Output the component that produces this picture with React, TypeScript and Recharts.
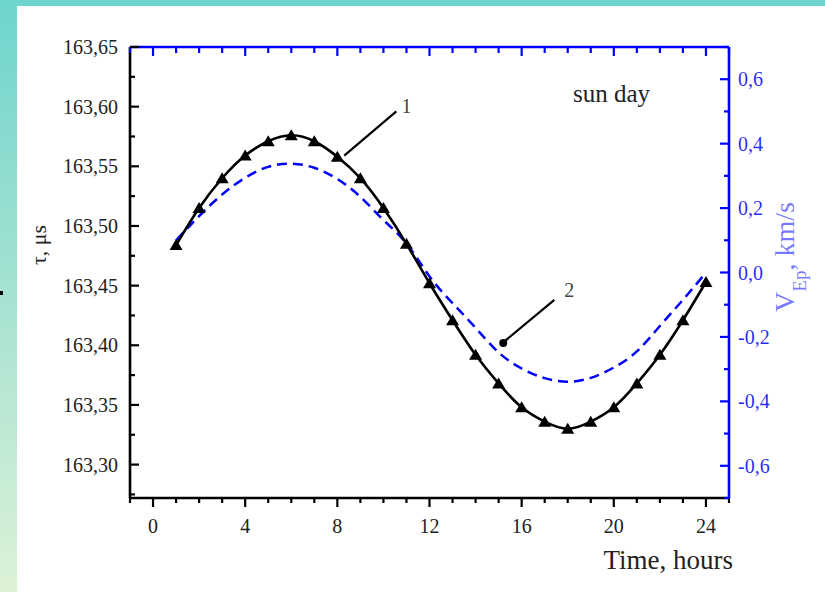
import { Label, Line, LineChart, ReferenceDot, ReferenceLine, XAxis, YAxis } from "recharts";

const hours = [1, 2, 3, 4, 5, 6, 7, 8, 9, 10, 11, 12, 13, 14, 15, 16, 17, 18, 19, 20, 21, 22, 23, 24];
// curve 1: tau, microseconds (left axis)
const tau = [
  163.484, 163.515, 163.54, 163.559, 163.571, 163.576, 163.571, 163.558, 163.54, 163.515, 163.485, 163.452,
  163.421, 163.392, 163.368, 163.348, 163.336, 163.33, 163.336, 163.348, 163.368, 163.392, 163.421, 163.453,
];
// curve 2: V_Ep, km/s (right axis)
const vep = [
  0.1, 0.175, 0.242, 0.294, 0.328, 0.338, 0.325, 0.29, 0.235, 0.163, 0.09, -0.012,
  -0.095, -0.172, -0.248, -0.298, -0.328, -0.339, -0.327, -0.295, -0.245, -0.166, -0.085, 0.0,
];

const timeTicks = [-1, 0, 1, 2, 3, 4, 5, 6, 7, 8, 9, 10, 11, 12, 13, 14, 15, 16, 17, 18, 19, 20, 21, 22, 23, 24, 25];
const tauTicks = [
  163.275, 163.3, 163.325, 163.35, 163.375, 163.4, 163.425, 163.45, 163.475, 163.5, 163.525, 163.55, 163.575, 163.6,
  163.625, 163.65,
];
const vepTicks = [-0.7, -0.6, -0.5, -0.4, -0.3, -0.2, -0.1, 0, 0.1, 0.2, 0.3, 0.4, 0.5, 0.6, 0.7];

const data = hours.map((h, i) => ({ h, tau: tau[i], vep: vep[i] }));

const serif = '"Liberation Serif", "Times New Roman", serif';
const BLUE = "#0000ff";

function BottomTick({ x, y, payload }: any) {
  const major = payload.value % 4 === 0;
  return (
    <g>
      <line x1={x} y1={y} x2={x} y2={y + (major ? 9 : 5)} stroke="#000" strokeWidth={2.2} />
      {major && (
        <text x={x} y={y + 35} textAnchor="middle" fontFamily={serif} fontSize={20} fill="#222">
          {payload.value}
        </text>
      )}
    </g>
  );
}

function TopTick({ x, y, payload }: any) {
  const major = payload.value % 4 === 0;
  return <line x1={x} y1={y} x2={x} y2={y + (major ? 9 : 6)} stroke={BLUE} strokeWidth={2.2} />;
}

function LeftTick({ x, y, payload }: any) {
  const major = Math.round(payload.value * 1000) % 50 === 0;
  return (
    <g>
      <line x1={x} y1={y} x2={x + (major ? 9 : 5)} y2={y} stroke="#000" strokeWidth={2.2} />
      {major && (
        <text x={x - 12} y={y + 7} textAnchor="end" fontFamily={serif} fontSize={20} fill="#222">
          {payload.value.toFixed(2).replace(".", ",")}
        </text>
      )}
    </g>
  );
}

function RightTick({ x, y, payload }: any) {
  const v = payload.value;
  const major = Math.round(v * 10) % 2 === 0;
  return (
    <g>
      <line x1={x} y1={y} x2={x - (major ? 9 : 5)} y2={y} stroke={BLUE} strokeWidth={2.2} />
      {major && (
        <text x={x + 9} y={y + 7} fontFamily={serif} fontSize={20} fill={BLUE} fillOpacity={0.85}>
          {v.toFixed(1).replace(".", ",")}
        </text>
      )}
    </g>
  );
}

function Triangle({ cx, cy }: any) {
  return <path d={`M${cx - 6.5},${cy + 5}L${cx + 6.5},${cy + 5}L${cx},${cy - 6}Z`} fill="#000" />;
}

export default function App() {
  return (
    <div style={{ position: "absolute", left: 0, top: 0, width: 825, height: 592, background: "#fff" }}>
      <div style={{ position: "absolute", left: 0, top: 0, width: 825, height: 6, background: "#6fd6ce" }} />
      <div
        style={{
          position: "absolute",
          left: 0,
          top: 0,
          width: 17,
          height: 592,
          background: "linear-gradient(#6fd5cd, #a6e2d2 50%, #dcf2d6)",
        }}
      />
      <div style={{ position: "absolute", left: 0, top: 291, width: 3, height: 4, background: "#000" }} />
      <div
        style={{
          position: "absolute",
          left: 573,
          top: 81,
          fontFamily: serif,
          fontSize: 25,
          lineHeight: 1,
          color: "#222",
        }}
      >
        sun day
      </div>
      <LineChart
        width={825}
        height={592}
        data={data}
        margin={{ top: 46, right: 95, bottom: 93, left: 129 }}
        style={{ position: "absolute", left: 0, top: 0 }}
      >
        <XAxis
          xAxisId="bottom"
          dataKey="h"
          type="number"
          domain={[-1, 25]}
          ticks={timeTicks}
          interval={0}
          height={1}
          tickSize={0}
          tickMargin={0}
          tickLine={false}
          tick={<BottomTick />}
          axisLine={{ stroke: "#000", strokeWidth: 2.6 }}
        >
          <Label
            content={({ viewBox }: any) => (
              <text
                x={viewBox.x + viewBox.width + 4}
                y={viewBox.y + 71}
                textAnchor="end"
                fontFamily={serif}
                fontSize={27}
                fill="#222"
              >
                Time, hours
              </text>
            )}
          />
        </XAxis>
        <XAxis
          xAxisId="top"
          orientation="top"
          dataKey="h"
          type="number"
          domain={[-1, 25]}
          ticks={timeTicks}
          interval={0}
          height={1}
          tickSize={0}
          tickMargin={0}
          tickLine={false}
          tick={<TopTick />}
          axisLine={{ stroke: BLUE, strokeWidth: 2.6 }}
        />
        <YAxis
          yAxisId="left"
          type="number"
          domain={[163.272, 163.65]}
          ticks={tauTicks}
          interval={0}
          width={1}
          tickSize={0}
          tickMargin={0}
          tickLine={false}
          tick={<LeftTick />}
          axisLine={{ stroke: "#000", strokeWidth: 2.6 }}
        >
          <Label
            content={() => (
              <text
                x={46}
                y={245}
                transform="rotate(-90, 46, 245)"
                textAnchor="middle"
                fontFamily={serif}
                fontSize={22}
                fill="#222"
              >
                τ, μs
              </text>
            )}
          />
        </YAxis>
        <YAxis
          yAxisId="right"
          orientation="right"
          type="number"
          domain={[-0.7, 0.7]}
          ticks={vepTicks}
          interval={0}
          width={1}
          tickSize={0}
          tickMargin={0}
          tickLine={false}
          tick={<RightTick />}
          axisLine={{ stroke: BLUE, strokeWidth: 2.6 }}
        >
          <Label
            content={() => (
              <text
                x={794}
                y={257}
                transform="rotate(-90, 794, 257)"
                textAnchor="middle"
                fontFamily={serif}
                fontSize={28}
                fill={BLUE}
                fillOpacity={0.55}
              >
                V
                <tspan dy={12} fontSize={19}>
                  Ep
                </tspan>
                <tspan dy={-12}>, km/s</tspan>
              </text>
            )}
          />
        </YAxis>

        <ReferenceLine
          xAxisId="bottom"
          yAxisId="left"
          segment={[
            { x: 8.3, y: 163.559 },
            { x: 10.56, y: 163.596 },
          ]}
          stroke="#000"
          strokeWidth={2.2}
        />
        <ReferenceLine
          xAxisId="bottom"
          yAxisId="left"
          segment={[
            { x: 15.11, y: 163.401 },
            { x: 17.42, y: 163.438 },
          ]}
          stroke="#000"
          strokeWidth={2.2}
        />
        <ReferenceDot xAxisId="bottom" yAxisId="left" x={15.2} y={163.402} r={4} fill="#000" stroke="none" />
        <ReferenceDot
          xAxisId="bottom"
          yAxisId="left"
          x={11.0}
          y={163.601}
          r={0}
          stroke="none"
          label={{ value: "1", position: "center", fill: "#444", fontSize: 20, fontFamily: serif }}
        />
        <ReferenceDot
          xAxisId="bottom"
          yAxisId="left"
          x={18.07}
          y={163.446}
          r={0}
          stroke="none"
          label={{ value: "2", position: "center", fill: "#444", fontSize: 20, fontFamily: serif }}
        />

        <Line
          xAxisId="bottom"
          yAxisId="right"
          dataKey="vep"
          type="natural"
          stroke={BLUE}
          strokeWidth={2.5}
          strokeDasharray="10 6"
          dot={false}
          isAnimationActive={false}
        />
        <Line
          xAxisId="bottom"
          yAxisId="left"
          dataKey="tau"
          type="natural"
          stroke="#000"
          strokeWidth={2.6}
          dot={<Triangle />}
          isAnimationActive={false}
        />
      </LineChart>
    </div>
  );
}
